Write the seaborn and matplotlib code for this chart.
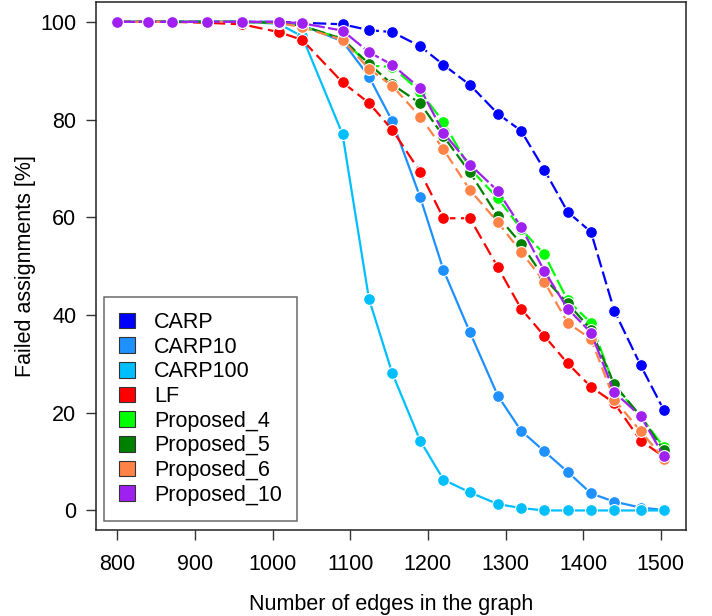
import matplotlib
matplotlib.use("Agg")
import matplotlib.pyplot as plt
from matplotlib.patches import Patch
import seaborn as sns
import pandas as pd

# number of edges (x) shared by all series
edges = [800, 840, 870, 915, 960, 1008, 1038, 1090, 1124, 1154, 1190,
         1220, 1254, 1290, 1320, 1350, 1380, 1410, 1440, 1474, 1504]

carp = [100, 100, 100, 100, 100, 100, 99.8, 99.5, 98.3, 97.9, 95.0,
        91.2, 87.1, 81.2, 77.7, 69.7, 61.1, 57.0, 40.9, 29.7, 20.5]
carp10 = [100, 100, 100, 100, 100, 99.8, 99.3, 96.0, 88.8, 79.7, 64.1,
          49.2, 36.5, 23.5, 16.3, 12.1, 7.9, 3.5, 1.8, 0.6, 0.1]
carp100 = [100, 100, 100, 100, 100, 99.6, 97.0, 77.0, 43.3, 28.1, 14.3,
           6.3, 3.7, 1.3, 0.5, 0.0, 0.0, 0.0, 0.0, 0.0, 0.0]
lf = [100, 100, 100, 99.8, 99.5, 97.9, 96.3, 87.6, 83.4, 77.9, 69.3,
      59.8, 59.8, 49.8, 41.3, 35.7, 30.1, 25.3, 22.0, 14.3, 11.0]
prop4 = [100, 100, 100, 100, 100, 99.8, 99.0, 96.6, 91.0, 90.8, 85.7,
         79.5, 70.0, 63.9, 57.6, 52.4, 43.0, 38.4, 25.5, 19.3, 12.9]
prop5 = [100, 100, 100, 100, 100, 99.8, 99.2, 96.5, 91.4, 87.2, 83.3,
         76.6, 69.2, 60.2, 54.6, 47.5, 42.4, 37.0, 25.8, 19.3, 12.3]
prop6 = [100, 100, 100, 100, 100, 99.8, 98.9, 96.3, 90.4, 86.9, 80.6,
         73.9, 65.6, 59.0, 52.9, 46.8, 38.4, 35.1, 22.7, 16.2, 10.6]
prop10 = [100, 100, 100, 100, 100, 100, 99.7, 98.2, 93.8, 91.2, 86.4,
          77.3, 70.8, 65.4, 58.0, 49.0, 41.3, 36.4, 24.2, 19.3, 11.1]

methods = ["CARP", "CARP10", "CARP100", "LF",
           "Proposed_4", "Proposed_5", "Proposed_6", "Proposed_10"]
series = [carp, carp10, carp100, lf, prop4, prop5, prop6, prop10]
colors = ["#0000FF", "#1E90FF", "#00BFFF", "#FF0000",
          "#00FF00", "#008000", "#FF8247", "#A020F0"]
dash_styles = [(6, 2), "", "", (6, 2.5), (7, 2), (6, 2), (5, 2.5), (8, 1.5)]

df = pd.DataFrame({
    "edges": edges * len(methods),
    "failed": [v for s in series for v in s],
    "method": [m for m in methods for _ in edges],
})

sns.set_style("ticks")
plt.rcParams["font.family"] = ["Liberation Sans", "DejaVu Sans"]
plt.rcParams["text.color"] = "black"
plt.rcParams["axes.labelcolor"] = "black"
plt.rcParams["xtick.color"] = "black"
plt.rcParams["ytick.color"] = "black"

fig = plt.figure(figsize=(7.12, 6.16), dpi=100)
ax = fig.add_axes([0.1344, 0.1396, 0.8286, 0.8567])

sns.lineplot(data=df, x="edges", y="failed", hue="method", style="method",
             hue_order=methods, style_order=methods,
             palette=dict(zip(methods, colors)),
             dashes=dict(zip(methods, dash_styles)),
             markers={m: "o" for m in methods},
             markersize=8.5, markeredgecolor="white", markeredgewidth=0.8,
             linewidth=1.6, legend=False, ax=ax)

ax.set_xlim(772, 1532)
ax.set_ylim(-4, 104)
ax.set_xticks(range(800, 1501, 100))
ax.set_yticks(range(0, 101, 20))
ax.tick_params(axis="both", labelsize=15.5, length=7, width=1,
               color="#333333", labelcolor="black")
ax.tick_params(axis="x", pad=10)
ax.tick_params(axis="y", pad=7)
for sp in ax.spines.values():
    sp.set_visible(True)
    sp.set_color("#222222")
    sp.set_linewidth(1.1)

ax.set_xlabel("Number of edges in the graph", fontsize=15.5, labelpad=14,
              color="black")
ax.set_ylabel("Failed assignments [%]", fontsize=15.5, labelpad=3,
              color="black")

handles = [Patch(facecolor=c, edgecolor="#333333", linewidth=0.8, label=m)
           for m, c in zip(methods, colors)]
leg = ax.legend(handles=handles, loc="lower left",
                bbox_to_anchor=(0.0136, 0.0176), borderaxespad=0,
                fontsize=15.5, frameon=True, fancybox=False,
                handlelength=0.75, handleheight=0.75, handletextpad=0.9,
                labelspacing=0.17, borderpad=0.7)
leg.get_frame().set_edgecolor("#444444")
leg.get_frame().set_linewidth(1.1)
for t in leg.get_texts():
    t.set_color("black")

fig.savefig("out.png", dpi=100)
